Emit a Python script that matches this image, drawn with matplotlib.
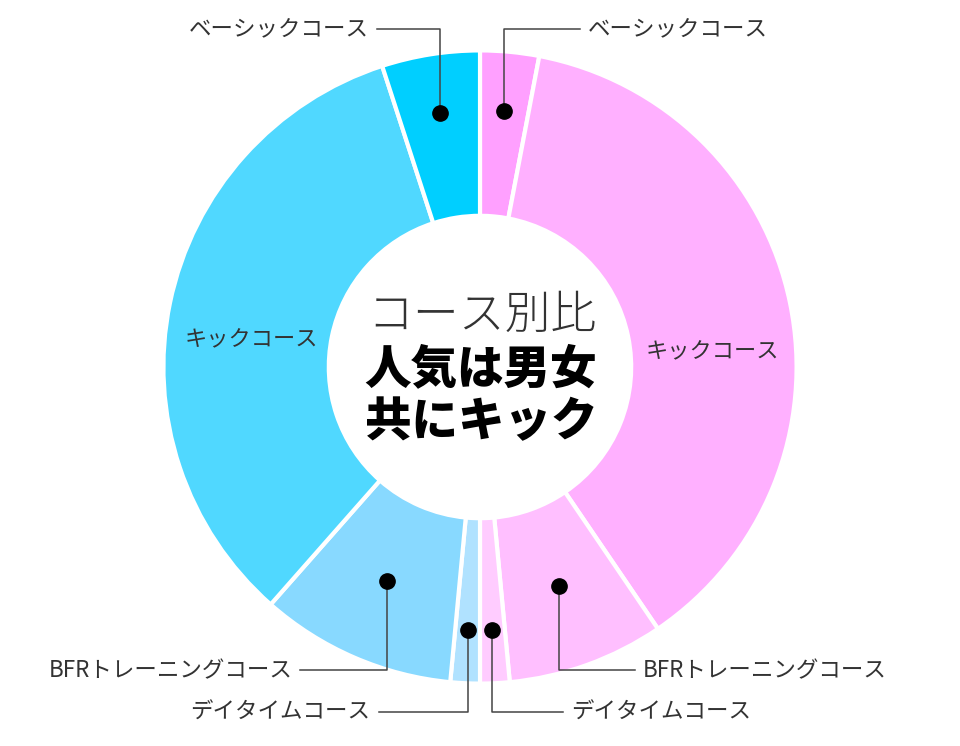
import numpy as np
import matplotlib
matplotlib.use('Agg')
import matplotlib.pyplot as plt

plt.rcParams['font.family'] = ['Noto Sans CJK JP', 'DejaVu Sans']

# share of each course (percent), women = right half, men = left half
courses = ['ベーシックコース', 'キックコース', 'BFRトレーニングコース', 'デイタイムコース']
women = [6, 75, 16, 3]
men = [10, 67, 20, 3]
women_colors = ['#ffa0ff', '#ffb0ff', '#ffbfff', '#ffccff']
men_colors = ['#00cfff', '#50d8ff', '#88d9ff', '#b0e2ff']

title_top = 'コース別比'
title_bold = ['人気は男女', '共にキック']

fig = plt.figure(figsize=(9.6, 7.46), dpi=100)
ax = fig.add_axes([0, 0, 1, 1])

# one pie: right half clockwise from top, then left half back up to top
vals = women + men[::-1]
cols = women_colors + men_colors[::-1]
wedges, _ = ax.pie(vals, colors=cols, startangle=90, counterclock=False,
                   radius=1.005,
                   wedgeprops=dict(width=0.525, edgecolor='white', linewidth=3))

R = 315.0
ax.set_xlim(-480 / R, 480 / R)
ax.set_ylim(-(746 - 367) / R, 367 / R)
ax.set_aspect('equal')
ax.axis('off')

w_wedges = wedges[:4]
m_wedges = wedges[4:][::-1]

def mid(w):
    return np.deg2rad((w.theta1 + w.theta2) / 2)

# dot radius, label y, leader length right / left (px)
callouts = {
    0: (0.815, 1.073, 76, 63),
    2: (0.74, -0.963, 76, 87),
    3: (0.835, -1.095, 71, 89),
}
gap = 8 / R
lc = '#444444'
tc = '#333333'

for side, wl in (('R', w_wedges), ('L', m_wedges)):
    sgn = 1 if side == 'R' else -1
    for i, (r, ly, hr, hlft) in callouts.items():
        a = mid(wl[i])
        x, y = r * np.cos(a), r * np.sin(a)
        x2 = x + sgn * (hr if sgn > 0 else hlft) / R
        ax.plot([x, x, x2], [y, ly, ly], color=lc, lw=1.1, zorder=3)
        ax.plot(x, y, 'o', color='black', ms=11, zorder=4)
        ax.text(x2 + sgn * gap, ly, courses[i], ha='left' if sgn > 0 else 'right',
                va='center', fontsize=16.2, color=tc)

# キックコース labels inside the big wedges
ax.text(-229 / R, 27 / R, courses[1], ha='center', va='center', fontsize=16, color=tc)
ax.text(232 / R, 15 / R, courses[1], ha='center', va='center', fontsize=16, color=tc)

# center text
ax.text(0.006, 0.162, title_top, ha='center', va='center', fontsize=33,
        color='#333333', fontweight='light')
ax.text(0.003, -0.01, title_bold[0], ha='center', va='center', fontsize=33.5,
        color='black', fontweight='heavy')
ax.text(0.003, -0.178, title_bold[1], ha='center', va='center', fontsize=33.5,
        color='black', fontweight='heavy')

fig.savefig('out.png', dpi=100, facecolor='white')
